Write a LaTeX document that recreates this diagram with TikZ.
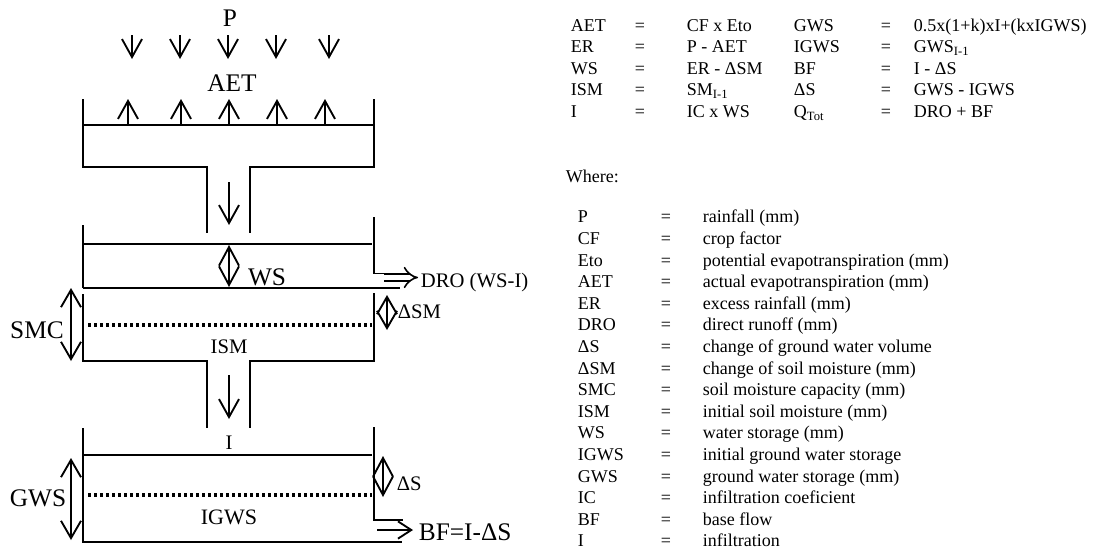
\documentclass[tikz,border=0pt]{standalone}
\usepackage{fontspec}
\setmainfont{Liberation Serif}
\usetikzlibrary{arrows.meta}

\begin{document}
\begin{tikzpicture}[x=0.75pt,y=-0.75pt,line width=1.4pt,
    barb/.style={-{Straight Barb[length=13.5pt,width=15pt]}},
    twobarb/.style={{Straight Barb[length=#1,width=15pt]}-{Straight Barb[length=#1,width=15pt]}},
    twobarb/.default=13pt,
    level/.style={line width=2.6pt,dash pattern=on 2.5pt off 2pt},
    big/.style={font=\fontsize{19}{22}\selectfont,inner sep=0pt},
    small/.style={font=\fontsize{15.5}{18}\selectfont,inner sep=0pt},
    txt/.style={font=\fontsize{13.5}{16}\selectfont,anchor=west,inner sep=0pt,text height=1.6ex,text depth=.3ex}]
  \useasboundingbox (0,0) rectangle (1094,550);

  % rain and evaporation
  \node[big] (lblP) at (230,18) {P};
  \foreach \x in {132,180,228,276,329}
    \draw[barb] (\x,35) -- (\x,59);
  \node[big] (lblAET) at (232,83) {AET};
  \foreach \x in {128,181,229,277,325}
    \draw[barb] (\x,125) -- (\x,99);

  % top tank
  \draw (83,99) -- (83,167) -- (207,167) -- (207,233);
  \draw (374,99) -- (374,167) -- (250,167) -- (250,233);
  \draw (83,125) -- (374,125);
  \draw[barb] (229,182) -- (229,225);

  % soil moisture tank
  \draw (83,225) -- (83,288);
  \draw (83,294) -- (83,361) -- (207,361) -- (207,428);
  \draw (374,217) -- (374,273.5) -- (386,273.5);
  \draw (374,293) -- (374,361) -- (250,361) -- (250,428);
  \draw (83,244) -- (372,244);
  \draw (83,288) -- (400,288);
  \draw[level] (88,325) -- (372,325);
  \draw[twobarb=14pt] (229,245) -- (229,287);
  \node[big] (lblWS) at (267,277) {WS};
  \draw[line width=1.2pt,double,double distance=4.4pt,-{Implies}] (384,277.5) -- (418,277.5);
  \node[small,anchor=west] (lblDRO) at (420,283) {DRO (WS-I)};
  \draw[twobarb=13pt] (71,288) -- (71,361);
  \node[big] (lblSMC) at (37,330) {SMC};
  \draw[twobarb=13pt] (387,295) -- (387,330);
  \node[small,anchor=west] (lblDSM) at (397,312) {ΔSM};
  \node[small] (lblISM) at (229,347) {ISM};
  \draw[barb] (229,375) -- (229,419);

  % ground water tank
  \node[small] (lblI) at (229,443) {I};
  \draw (83,428) -- (83,542) -- (402,542);
  \draw (374,427) -- (374,520) -- (403,520);
  \draw (83,455) -- (372,455);
  \draw[level] (88,495) -- (372,495);
  \draw[twobarb=13pt] (71,458) -- (71,540);
  \node[big] (lblGWS) at (38,498) {GWS};
  \draw[twobarb=14pt] (383,456) -- (383,497);
  \node[small,anchor=west] (lblDS) at (396,484) {ΔS};
  \node[font=\fontsize{16.5}{19}\selectfont,inner sep=0pt] (lblIGWS) at (229,517) {IGWS};
  \draw[-{Straight Barb[length=10pt,width=13pt]}] (377,530) -- (413,530);
  \node[big,anchor=west] (lblBF) at (418,532) {BF=I-ΔS};

  % equations
  \foreach \a/\b/\c/\d [count=\r, evaluate=\r as \y using 27.5+21.5*(\r-1)] in
    {AET/CF x Eto/GWS/0.5x(1+k)xI+(kxIGWS),
     ER/P - AET/IGWS/GWS\textsubscript{I-1},
     WS/ER - ΔSM/BF/I - ΔS,
     ISM/SM\textsubscript{I-1}/ΔS/GWS - IGWS,
     I/IC x WS/Q\textsubscript{Tot}/DRO + BF} {
    \node[txt] (eqa\r) at (570,\y) {\a};
    \node[txt,anchor=center] (eqb\r) at (640,\y) {=};
    \node[txt] (eqc\r) at (686,\y) {\b};
    \node[txt] (eqd\r) at (793,\y) {\c};
    \node[txt,anchor=center] (eqe\r) at (886,\y) {=};
    \node[txt] (eqf\r) at (913,\y) {\d};
  }

  % legend
  \node[txt] (where) at (565,179) {Where:};
  \foreach \s/\t [count=\r, evaluate=\r as \y using 219+21.6*(\r-1)] in
    {P/rainfall (mm), CF/crop factor, Eto/potential evapotranspiration (mm),
     AET/actual evapotranspiration (mm), ER/excess rainfall (mm),
     DRO/direct runoff (mm), ΔS/change of ground water volume,
     ΔSM/change of soil moisture (mm), SMC/soil moisture capacity (mm),
     ISM/initial soil moisture (mm), WS/water storage (mm),
     IGWS/initial ground water storage, GWS/ground water storage (mm),
     IC/infiltration coeficient, BF/base flow, I/infiltration} {
    \node[txt] (sym\r) at (577,\y) {\s};
    \node[txt,anchor=center] (eq\r) at (666,\y) {=};
    \node[txt] (desc\r) at (702,\y) {\t};
  }
\end{tikzpicture}
\end{document}
